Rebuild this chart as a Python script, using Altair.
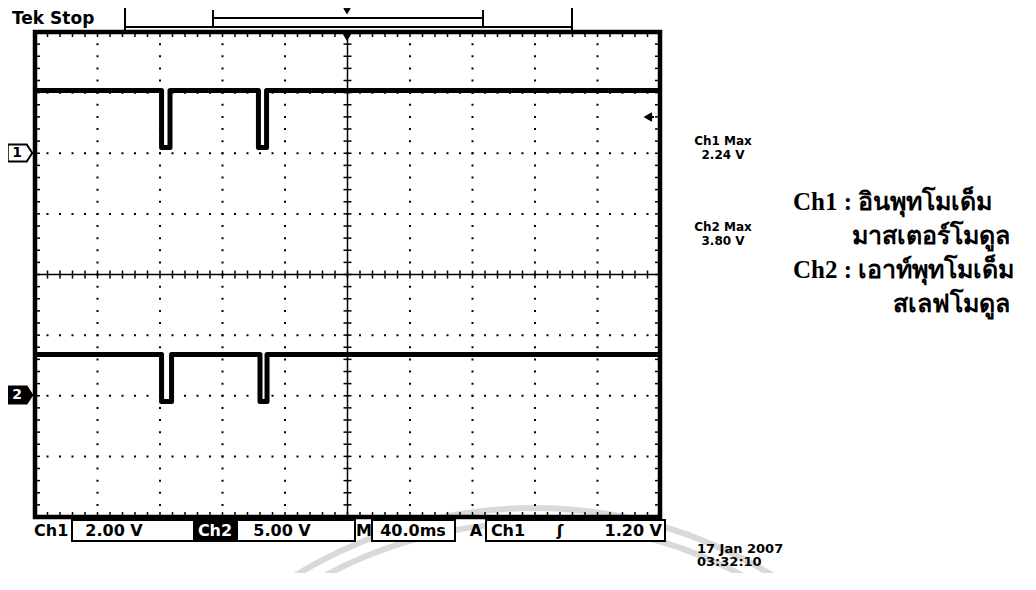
import altair as alt
import pandas as pd

# ---------------- data ----------------
ch1_time_ms = [0, 81.0, 81.0, 86.4, 86.4, 143.0, 143.0, 148.2, 148.2, 400]
ch1_volts = [2.07, 2.07, 0.19, 0.19, 2.07, 2.07, 0.19, 0.19, 2.07, 2.07]
ch2_time_ms = [0, 81.0, 81.0, 87.4, 87.4, 144.0, 144.0, 148.5, 148.5, 400]
ch2_volts = [3.40, 3.40, -0.47, -0.47, 3.40, 3.40, -0.47, -0.47, 3.40, 3.40]

ch1_volts_per_div = 2.0
ch2_volts_per_div = 5.0
ch1_ground_div = 2.0
ch2_ground_div = -2.0
ms_per_div = 40.0
n_xdiv = 10
n_ydiv = 8

status_labels = ["Ch1", "2.00 V", "Ch2", "5.00 V", "M", "40.0ms", "A", "Ch1", "ʃ", "1.20 V"]
meas_labels = ["Ch1 Max", "2.24 V", "Ch2 Max", "3.80 V"]
thai_labels = ["Ch1 : อินพุทโมเด็ม", "มาสเตอร์โมดูล", "Ch2 : เอาท์พุทโมเด็ม", "สเลฟโมดูล"]
date_labels = ["17 Jan  2007", "03:32:10"]

# ---------------- geometry ----------------
W, H = 625, 485
OX, OY = 35, 32          # page position of plot origin
t_max = ms_per_div * n_xdiv
y_half = n_ydiv / 2
px_per_ms = W / t_max
px_per_div = H / n_ydiv

xs = alt.Scale(domain=[0, t_max], nice=False, zero=False)
ys = alt.Scale(domain=[-y_half, y_half], nice=False, zero=False)


def X(f):
    return alt.X(f, type="quantitative", scale=xs, axis=None)


def Y(f):
    return alt.Y(f, type="quantitative", scale=ys, axis=None)


def X2(f):
    return alt.X2(f)


def Y2(f):
    return alt.Y2(f)


# traces
rows = []
for i, (t, v) in enumerate(zip(ch1_time_ms, ch1_volts)):
    rows.append({"ch": "Ch1", "i": i, "t": t, "d": ch1_ground_div + v / ch1_volts_per_div})
for i, (t, v) in enumerate(zip(ch2_time_ms, ch2_volts)):
    rows.append({"ch": "Ch2", "i": i, "t": t, "d": ch2_ground_div + v / ch2_volts_per_div})
traces = pd.DataFrame(rows)

# graticule positions
x_major = [ms_per_div * k for k in range(1, n_xdiv) if k != n_xdiv // 2]
y_major = [k - y_half for k in range(1, n_ydiv) if k != n_ydiv // 2]
x_minor = [ms_per_div * k / 5 for k in range(n_xdiv * 5 + 1)]
y_minor = [-y_half + k / 5 for k in range(n_ydiv * 5 + 1)]

vgrid = pd.DataFrame({"t": x_major, "y1": y_half, "y2": -y_half})
hgrid = pd.DataFrame({"d": y_major, "x1": 0.0, "x2": t_max})

tick_c_ms = 4 / px_per_ms
tick_c_div = 4 / px_per_div
tick_b_ms = 5 / px_per_ms
tick_b_div = 5 / px_per_div

cx = t_max / 2
ticks_h = pd.DataFrame({"t": x_minor, "a": -tick_c_div, "b": tick_c_div})
ticks_v = pd.DataFrame({"d": y_minor, "a": cx - tick_c_ms, "b": cx + tick_c_ms})
ticks_top = pd.DataFrame({"t": x_minor, "a": y_half, "b": y_half - tick_b_div})
ticks_bot = pd.DataFrame({"t": x_minor, "a": -y_half, "b": -y_half + tick_b_div})
ticks_left = pd.DataFrame({"d": y_minor, "a": 0.0, "b": tick_b_ms})
ticks_right = pd.DataFrame({"d": y_minor, "a": t_max - tick_b_ms, "b": t_max})

gstep_y = px_per_div / 5
gstep_x = px_per_ms * ms_per_div / 5

dummy = pd.DataFrame({"k": [0]})


def px(x):
    return alt.value(x - OX)


def py(y):
    return alt.value(y - OY)


layers = []

# faint watermark rings (background of the page)
for r_out in (459, 444):
    layers.append(alt.Chart(dummy).mark_arc(color="#d9d9d9", radius=r_out, radius2=r_out - 6,
                                            theta=0, theta2=6.2832)
                  .encode(x=px(534), y=py(964)))

layers.append(alt.Chart(vgrid).mark_rule(color="black", strokeWidth=2, strokeDash=[2, gstep_y - 2], strokeDashOffset=1)
              .encode(x=X("t"), y=Y("y1"), y2=Y2("y2")))
layers.append(alt.Chart(hgrid).mark_rule(color="black", strokeWidth=2, strokeDash=[2, gstep_x - 2], strokeDashOffset=1)
              .encode(y=Y("d"), x=X("x1"), x2=X2("x2")))
center = pd.DataFrame({"t": [cx], "a": [-y_half], "b": [y_half]})
layers.append(alt.Chart(center).mark_rule(color="black", strokeWidth=1.5).encode(x=X("t"), y=Y("a"), y2=Y2("b")))
centerh = pd.DataFrame({"d": [0.0], "a": [0.0], "b": [t_max]})
layers.append(alt.Chart(centerh).mark_rule(color="black", strokeWidth=1.5).encode(y=Y("d"), x=X("a"), x2=X2("b")))
for df in (ticks_h, ticks_top, ticks_bot):
    layers.append(alt.Chart(df).mark_rule(color="black", strokeWidth=1.5).encode(x=X("t"), y=Y("a"), y2=Y2("b")))
for df in (ticks_v, ticks_left, ticks_right):
    layers.append(alt.Chart(df).mark_rule(color="black", strokeWidth=1.5).encode(y=Y("d"), x=X("a"), x2=X2("b")))
frame = pd.DataFrame({"a": [0.0], "b": [t_max], "c": [-y_half], "e": [y_half]})
layers.append(alt.Chart(frame).mark_rect(fillOpacity=0, stroke="black", strokeWidth=4.5)
              .encode(x=X("a"), x2=X2("b"), y=Y("c"), y2=Y2("e")))

layers.append(alt.Chart(traces).mark_line(color="black", strokeWidth=5, strokeJoin="round")
              .encode(x=X("t"), y=Y("d"), detail="ch:N", order="i:Q"))


def text(s, x, y, size, font="DejaVu Sans", weight="bold", align="left", color="black"):
    return alt.Chart(dummy).mark_text(text=s, fontSize=size, font=font, fontWeight=weight,
                                      align=align, baseline="middle", color=color).encode(x=px(x), y=py(y))


def hline(x1, x2, y, w=2):
    return alt.Chart(dummy).mark_rule(color="black", strokeWidth=w).encode(x=px(x1), x2=px(x2), y=py(y))


def vline(x, y1, y2, w=2):
    return alt.Chart(dummy).mark_rule(color="black", strokeWidth=w).encode(x=px(x), y=py(y1), y2=py(y2))


def box(x1, x2, y1, y2, fill="white"):
    return alt.Chart(dummy).mark_rect(fill=fill, stroke="black", strokeWidth=2).encode(
        x=px(x1), x2=px(x2), y=py(y1), y2=py(y2))


def sym(shape, x, y, size, fill="black", stroke="black", sw=1):
    return alt.Chart(dummy).mark_point(shape=shape, filled=True, fill=fill, stroke=stroke, strokeWidth=sw,
                                       size=size, opacity=1).encode(x=px(x), y=py(y))


# top record bar
layers += [vline(125, 8, 30), hline(125, 572, 27), vline(213, 10, 27), hline(213, 483, 18),
           vline(483, 10, 27), vline(572, 8, 30)]
layers.append(sym("triangle-down", 347, 11, 40))
layers.append(sym("circle", 162, 4, 6))
layers.append(sym("triangle-down", 347, 36, 100))
layers.append(text("Tek Stop", 12, 19, 17))

# trigger level arrow
layers.append(sym("triangle-left", 648, 117, 70))
layers.append(hline(648, 654, 117, 2))

# channel ground markers
marker = "M-1,-0.7 L0.55,-0.7 L1,0 L0.55,0.7 L-1,0.7 Z"
layers.append(sym(marker, 20, 153, 600, fill="white", stroke="black", sw=2))
layers.append(text("1", 17, 153, 14, align="center"))
layers.append(sym(marker, 20, 395, 600, fill="black", stroke="black", sw=2))
layers.append(text("2", 17, 395, 14, align="center", color="white"))

# status bar
sy = 531
layers += [box(72, 194, 520, 541), box(237, 355, 520, 541), box(372, 455, 520, 541), box(486, 665, 520, 541)]
layers.append(box(194, 237, 520, 541, fill="black"))
layers.append(text(status_labels[0], 34, sy, 16))
layers.append(text(status_labels[1], 114, sy, 16, align="center"))
layers.append(text(status_labels[2], 215, sy, 16, align="center", color="white"))
layers.append(text(status_labels[3], 282, sy, 16, align="center"))
layers.append(text(status_labels[4], 364, sy, 16, align="center"))
layers.append(text(status_labels[5], 413, sy, 16, align="center"))
layers.append(text(status_labels[6], 476, sy, 16, align="center"))
layers.append(text(status_labels[7], 508, sy, 16, align="center"))
layers.append(text(status_labels[8], 560, sy, 16, align="center"))
layers.append(text(status_labels[9], 662, sy, 16, align="right"))

# measurements
layers.append(text(meas_labels[0], 723, 141, 12, align="center"))
layers.append(text(meas_labels[1], 723, 155, 12, align="center"))
layers.append(text(meas_labels[2], 723, 227, 12, align="center"))
layers.append(text(meas_labels[3], 723, 241, 12, align="center"))

# Thai annotations
layers.append(text(thai_labels[0], 793, 202, 25, font="Liberation Serif"))
layers.append(text(thai_labels[1], 1010, 236, 25, font="Liberation Serif", align="right"))
layers.append(text(thai_labels[2], 793, 270, 25, font="Liberation Serif"))
layers.append(text(thai_labels[3], 1010, 304, 25, font="Liberation Serif", align="right"))

# date
layers.append(text(date_labels[0], 697, 549, 13))
layers.append(text(date_labels[1], 697, 562, 13))

chart = alt.layer(*layers).properties(
    width=W, height=H, autosize=alt.AutoSizeParams(type="none"),
    padding={"left": OX - 8, "top": OY - 8, "right": 360, "bottom": 56},
    background="white",
).configure_view(stroke=None)

chart.save("out.html", embed_options={"renderer": "svg", "actions": False})
